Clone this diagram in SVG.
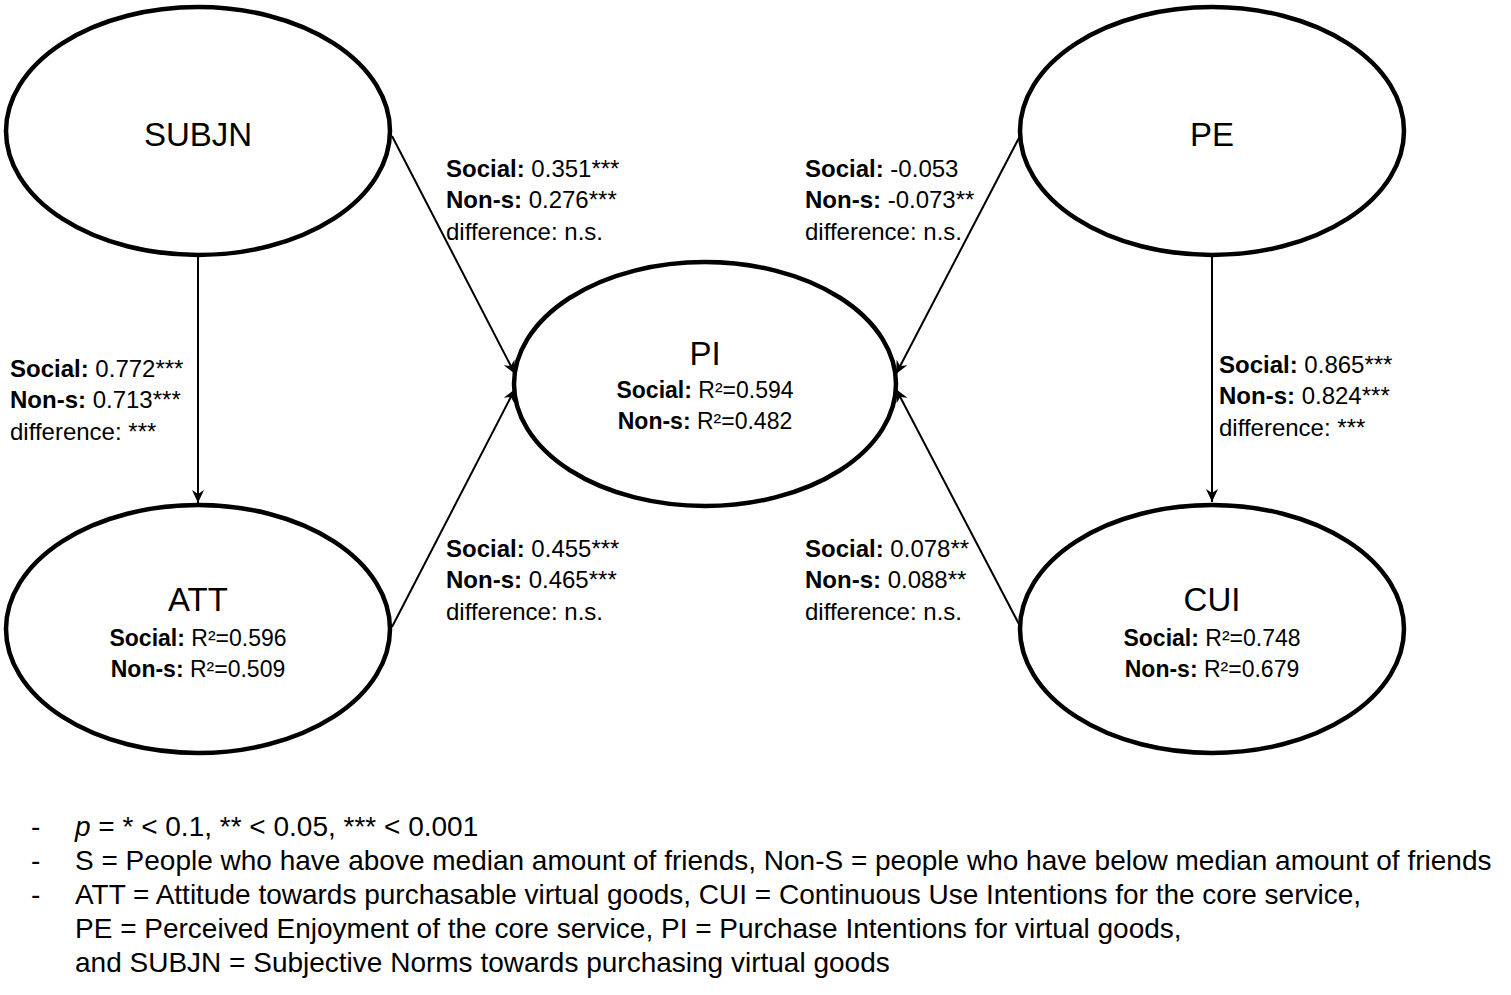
<svg xmlns="http://www.w3.org/2000/svg" width="1511" height="995" viewBox="0 0 1511 995">
<style>
.node{fill:#fff;stroke:#000;stroke-width:4.5}
.edge{stroke:#000;stroke-width:2;fill:none;marker-end:url(#arr)}
text{font-family:"Liberation Sans",Arial,sans-serif;fill:#000}
.title{font-size:33px;text-anchor:middle}
.r2{font-size:23px;text-anchor:middle}
.lbl{font-size:24px}
.foot{font-size:28px}
.b{font-weight:bold}
</style>
<defs>
<marker id="arr" markerUnits="userSpaceOnUse" markerWidth="14" markerHeight="14" refX="13" refY="7" orient="auto">
<path d="M0,1 L13,7 L0,13 L4,7 z" fill="#000"/>
</marker>
</defs>
<rect width="1511" height="995" fill="#fff"/>
<g id="connectors">
<line class="edge" x1="198" y1="256" x2="198" y2="503"/>
<line class="edge" x1="1212" y1="257" x2="1212" y2="502"/>
<line class="edge" x1="392" y1="136" x2="515" y2="374"/>
<line class="edge" x1="392" y1="627" x2="515" y2="389"/>
<line class="edge" x1="1021" y1="134" x2="896" y2="374"/>
<line class="edge" x1="1021" y1="628" x2="896" y2="389"/>
</g>
<g id="SUBJN">
<ellipse class="node" cx="198" cy="131" rx="192" ry="124"/>
<text class="title" x="198" y="146">SUBJN</text>
</g>
<g id="PE">
<ellipse class="node" cx="1212" cy="131" rx="192" ry="124"/>
<text class="title" x="1212" y="146">PE</text>
</g>
<g id="PI">
<ellipse class="node" cx="705" cy="384" rx="191" ry="122"/>
<text class="title" x="705" y="365">PI</text>
<text class="r2" x="705" y="398"><tspan class="b">Social:</tspan> R²=0.594</text>
<text class="r2" x="705" y="429"><tspan class="b">Non-s:</tspan> R²=0.482</text>
</g>
<g id="ATT">
<ellipse class="node" cx="198" cy="629" rx="192" ry="124"/>
<text class="title" x="198" y="611">ATT</text>
<text class="r2" x="198" y="646"><tspan class="b">Social:</tspan> R²=0.596</text>
<text class="r2" x="198" y="677"><tspan class="b">Non-s:</tspan> R²=0.509</text>
</g>
<g id="CUI">
<ellipse class="node" cx="1212" cy="629" rx="192" ry="124"/>
<text class="title" x="1212" y="611">CUI</text>
<text class="r2" x="1212" y="646"><tspan class="b">Social:</tspan> R²=0.748</text>
<text class="r2" x="1212" y="677"><tspan class="b">Non-s:</tspan> R²=0.679</text>
</g>
<g id="edge-labels">
<text class="lbl" x="446" y="177"><tspan class="b">Social:</tspan> 0.351***</text>
<text class="lbl" x="446" y="208"><tspan class="b">Non-s:</tspan> 0.276***</text>
<text class="lbl" x="446" y="240">difference: n.s.</text>
<text class="lbl" x="805" y="177"><tspan class="b">Social:</tspan> -0.053</text>
<text class="lbl" x="805" y="208"><tspan class="b">Non-s:</tspan> -0.073**</text>
<text class="lbl" x="805" y="240">difference: n.s.</text>
<text class="lbl" x="10" y="377"><tspan class="b">Social:</tspan> 0.772***</text>
<text class="lbl" x="10" y="408"><tspan class="b">Non-s:</tspan> 0.713***</text>
<text class="lbl" x="10" y="440">difference: ***</text>
<text class="lbl" x="1219" y="373"><tspan class="b">Social:</tspan> 0.865***</text>
<text class="lbl" x="1219" y="404"><tspan class="b">Non-s:</tspan> 0.824***</text>
<text class="lbl" x="1219" y="436">difference: ***</text>
<text class="lbl" x="446" y="557"><tspan class="b">Social:</tspan> 0.455***</text>
<text class="lbl" x="446" y="588"><tspan class="b">Non-s:</tspan> 0.465***</text>
<text class="lbl" x="446" y="620">difference: n.s.</text>
<text class="lbl" x="805" y="557"><tspan class="b">Social:</tspan> 0.078**</text>
<text class="lbl" x="805" y="588"><tspan class="b">Non-s:</tspan> 0.088**</text>
<text class="lbl" x="805" y="620">difference: n.s.</text>
</g>
<g id="footnote">
<text class="foot" x="31" y="836">-</text>
<text class="foot" x="31" y="870">-</text>
<text class="foot" x="31" y="904">-</text>
<text class="foot" x="75" y="836"><tspan font-style="italic">p</tspan> = * &lt; 0.1, ** &lt; 0.05, *** &lt; 0.001</text>
<text class="foot" x="75" y="870">S = People who have above median amount of friends, Non-S = people who have below median amount of friends</text>
<text class="foot" x="75" y="904">ATT = Attitude towards purchasable virtual goods, CUI = Continuous Use Intentions for the core service,</text>
<text class="foot" x="75" y="938">PE = Perceived Enjoyment of the core service, PI = Purchase Intentions for virtual goods,</text>
<text class="foot" x="75" y="972">and SUBJN = Subjective Norms towards purchasing virtual goods</text>
</g>
</svg>
